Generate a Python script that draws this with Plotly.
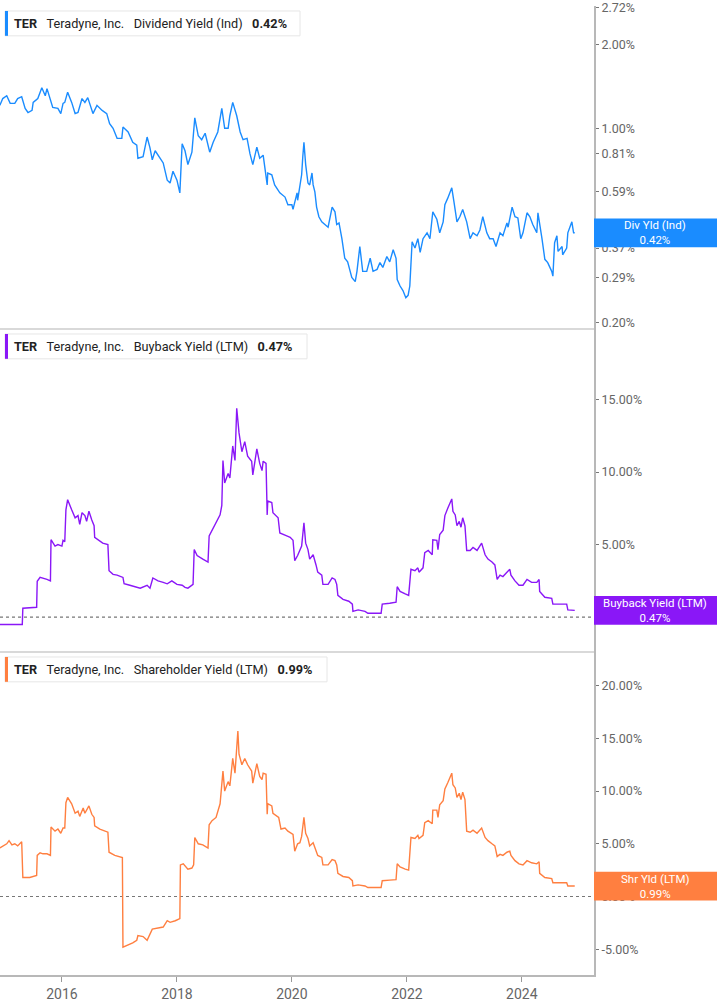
import plotly.graph_objects as go
from plotly.subplots import make_subplots
from datetime import datetime, timedelta
import math

# ---------------- data (decimal years, percent values) ----------------
div_t = [2014.92, 2014.97, 2015.04, 2015.10, 2015.18, 2015.23, 2015.30, 2015.36, 2015.41, 2015.48,
         2015.50, 2015.58, 2015.65, 2015.71, 2015.74, 2015.79, 2015.84, 2015.93, 2015.98, 2016.02,
         2016.05, 2016.10, 2016.17, 2016.23, 2016.28, 2016.35, 2016.40, 2016.45, 2016.49, 2016.54,
         2016.61, 2016.70, 2016.78, 2016.83, 2016.89, 2016.96, 2017.04, 2017.06, 2017.15, 2017.23,
         2017.30, 2017.32, 2017.41, 2017.48, 2017.53, 2017.57, 2017.62, 2017.70, 2017.76, 2017.83,
         2017.88, 2017.93, 2018.00, 2018.05, 2018.09, 2018.14, 2018.19, 2018.26, 2018.31, 2018.37,
         2018.43, 2018.49, 2018.57, 2018.63, 2018.71, 2018.78, 2018.83, 2018.89, 2018.92, 2018.97,
         2019.04, 2019.10, 2019.15, 2019.22, 2019.27, 2019.32, 2019.39, 2019.44, 2019.50, 2019.57,
         2019.58, 2019.65, 2019.70, 2019.79, 2019.88, 2019.93, 2020.00, 2020.02, 2020.09, 2020.10,
         2020.14, 2020.17, 2020.19, 2020.21, 2020.24, 2020.28, 2020.31, 2020.35, 2020.37, 2020.40,
         2020.43, 2020.47, 2020.52, 2020.57, 2020.63, 2020.70, 2020.75, 2020.78, 2020.82, 2020.87,
         2020.92, 2020.97, 2021.04, 2021.10, 2021.13, 2021.18, 2021.23, 2021.30, 2021.36, 2021.41,
         2021.48, 2021.53, 2021.58, 2021.65, 2021.70, 2021.76, 2021.81, 2021.83, 2021.88, 2021.93,
         2021.98, 2022.02, 2022.05, 2022.09, 2022.14, 2022.19, 2022.23, 2022.28, 2022.35, 2022.40,
         2022.45, 2022.52, 2022.57, 2022.63, 2022.66, 2022.71, 2022.78, 2022.82, 2022.87, 2022.92,
         2022.97, 2023.04, 2023.10, 2023.15, 2023.22, 2023.27, 2023.32, 2023.39, 2023.44, 2023.50,
         2023.55, 2023.62, 2023.67, 2023.74, 2023.76, 2023.83, 2023.88, 2023.93, 2023.98, 2024.02,
         2024.09, 2024.14, 2024.19, 2024.26, 2024.28, 2024.35, 2024.40, 2024.45, 2024.52, 2024.54,
         2024.57, 2024.61, 2024.63, 2024.70, 2024.71, 2024.78, 2024.80, 2024.87, 2024.90, 2024.92]
div_v = [1.21, 1.28, 1.31, 1.23, 1.23, 1.28, 1.30, 1.18, 1.14, 1.16,
         1.24, 1.28, 1.40, 1.31, 1.39, 1.28, 1.19, 1.18, 1.13, 1.23,
         1.24, 1.35, 1.24, 1.13, 1.14, 1.28, 1.24, 1.29, 1.21, 1.13,
         1.21, 1.16, 1.13, 1.04, 1.00, 0.92, 0.92, 1.01, 0.97, 0.89,
         0.87, 0.78, 0.79, 0.93, 0.85, 0.77, 0.83, 0.78, 0.75, 0.65,
         0.635, 0.70, 0.65, 0.585, 0.88, 0.83, 0.74, 0.82, 1.09, 0.94,
         0.91, 0.96, 0.82, 0.89, 0.97, 1.18, 1.00, 1.00, 1.11, 1.24,
         1.11, 0.97, 0.91, 0.92, 0.81, 0.74, 0.855, 0.78, 0.80, 0.625,
         0.69, 0.68, 0.625, 0.585, 0.565, 0.53, 0.53, 0.51, 0.585, 0.55,
         0.615, 0.68, 0.79, 0.89, 0.74, 0.635, 0.625, 0.69, 0.625, 0.59,
         0.52, 0.48, 0.46, 0.45, 0.44, 0.52, 0.50, 0.45, 0.456, 0.40,
         0.34, 0.33, 0.29, 0.28, 0.305, 0.375, 0.305, 0.305, 0.34, 0.305,
         0.31, 0.328, 0.315, 0.345, 0.33, 0.365, 0.34, 0.285, 0.27, 0.26,
         0.245, 0.25, 0.27, 0.39, 0.37, 0.40, 0.357, 0.40, 0.42, 0.40,
         0.50, 0.47, 0.42, 0.46, 0.53, 0.56, 0.61, 0.54, 0.46, 0.48,
         0.51, 0.46, 0.40, 0.42, 0.41, 0.43, 0.48, 0.42, 0.40, 0.40,
         0.375, 0.42, 0.41, 0.456, 0.44, 0.52, 0.48, 0.475, 0.40, 0.42,
         0.496, 0.48, 0.45, 0.42, 0.496, 0.40, 0.337, 0.328, 0.305, 0.293,
         0.387, 0.41, 0.36, 0.375, 0.35, 0.37, 0.42, 0.46, 0.42, 0.42]

bb_t = [2014.92, 2015.31, 2015.32, 2015.56, 2015.57, 2015.62, 2015.74, 2015.80, 2015.81, 2015.88,
        2015.93, 2016.00, 2016.02, 2016.05, 2016.07, 2016.10, 2016.17, 2016.23, 2016.28, 2016.31,
        2016.35, 2016.40, 2016.43, 2016.47, 2016.52, 2016.56, 2016.57, 2016.63, 2016.71, 2016.80,
        2016.82, 2016.89, 2016.96, 2017.06, 2017.08, 2017.18, 2017.30, 2017.36, 2017.48, 2017.53,
        2017.58, 2017.67, 2017.76, 2017.83, 2017.91, 2018.00, 2018.09, 2018.14, 2018.19, 2018.28,
        2018.30, 2018.35, 2018.45, 2018.54, 2018.56, 2018.61, 2018.66, 2018.70, 2018.75, 2018.78,
        2018.80, 2018.83, 2018.89, 2018.92, 2018.97, 2019.01, 2019.04, 2019.08, 2019.13, 2019.18,
        2019.23, 2019.30, 2019.32, 2019.39, 2019.44, 2019.48, 2019.50, 2019.55, 2019.57, 2019.58,
        2019.65, 2019.67, 2019.76, 2019.79, 2019.84, 2019.91, 2019.97, 2020.02, 2020.05, 2020.10,
        2020.17, 2020.21, 2020.24, 2020.28, 2020.31, 2020.37, 2020.42, 2020.45, 2020.52, 2020.54,
        2020.63, 2020.70, 2020.75, 2020.78, 2020.80, 2020.89, 2020.99, 2021.05, 2021.06, 2021.15,
        2021.27, 2021.32, 2021.55, 2021.57, 2021.70, 2021.81, 2021.83, 2021.88, 2021.97, 2022.03,
        2022.07, 2022.14, 2022.19, 2022.21, 2022.28, 2022.31, 2022.37, 2022.44, 2022.45, 2022.52,
        2022.54, 2022.57, 2022.63, 2022.66, 2022.71, 2022.75, 2022.78, 2022.80, 2022.84, 2022.87,
        2022.91, 2022.94, 2022.97, 2023.01, 2023.04, 2023.10, 2023.15, 2023.22, 2023.30, 2023.36,
        2023.41, 2023.48, 2023.53, 2023.57, 2023.62, 2023.67, 2023.74, 2023.79, 2023.81, 2023.88,
        2023.95, 2024.02, 2024.09, 2024.17, 2024.26, 2024.30, 2024.31, 2024.40, 2024.52, 2024.54,
        2024.61, 2024.78, 2024.80, 2024.89, 2024.92]
bb_v = [-0.5, -0.5, 0.62, 0.68, 2.47, 2.74, 2.6, 2.5, 5.34, 4.9,
        5.0, 4.9, 5.3, 5.2, 7.4, 8.1, 7.4, 6.85, 7.0, 6.4,
        7.2, 7.0, 6.6, 7.3, 6.7, 6.3, 5.5, 5.3, 5.1, 5.0,
        3.2, 2.95, 2.9, 2.74, 2.3, 2.2, 2.05, 2.0, 2.2, 2.0,
        2.7, 2.5, 2.4, 2.3, 2.5, 2.26, 2.2, 2.05, 2.0, 2.26,
        4.66, 4.25, 4.0, 3.8, 5.6, 6.0, 6.4, 6.7, 7.05, 7.7,
        10.8, 9.25, 9.9, 9.6, 11.8, 10.8, 14.4, 12.7, 11.4, 12.1,
        11.1, 10.75, 9.8, 11.6, 10.6, 10.1, 10.75, 10.6, 7.05, 8.0,
        7.9, 7.2, 6.85, 5.8, 5.7, 5.6, 5.5, 5.3, 3.9, 4.25,
        4.9, 6.5, 5.1, 4.66, 4.0, 4.3, 3.6, 3.1, 2.9, 2.26,
        2.26, 2.7, 2.6, 2.26, 1.5, 1.23, 1.1, 0.9, 0.4, 0.5,
        0.4, 0.27, 0.27, 0.9, 0.96, 1.03, 2.1, 1.78, 1.6, 1.5,
        3.3, 3.2, 3.4, 3.1, 3.4, 4.45, 4.6, 4.3, 5.34, 5.3,
        4.66, 5.7, 6.0, 7.0, 7.5, 7.9, 8.15, 7.3, 7.05, 6.3,
        6.6, 6.2, 6.85, 6.3, 4.6, 4.6, 4.8, 4.6, 5.1, 4.3,
        4.0, 3.8, 3.6, 2.6, 2.9, 2.8, 3.1, 3.3, 2.9, 2.5,
        2.2, 2.2, 2.6, 2.4, 2.4, 2.6, 1.78, 1.37, 1.3, 0.9,
        0.9, 0.9, 0.5, 0.5, 0.47]

shr_t = [2014.92, 2014.97, 2015.04, 2015.08, 2015.13, 2015.18, 2015.23, 2015.30, 2015.32, 2015.44,
         2015.56, 2015.57, 2015.62, 2015.67, 2015.74, 2015.80, 2015.81, 2015.88, 2015.93, 2015.98,
         2016.02, 2016.05, 2016.07, 2016.10, 2016.17, 2016.23, 2016.28, 2016.31, 2016.37, 2016.40,
         2016.43, 2016.47, 2016.52, 2016.56, 2016.57, 2016.66, 2016.80, 2016.82, 2016.92, 2017.05,
         2017.06, 2017.15, 2017.23, 2017.30, 2017.32, 2017.41, 2017.48, 2017.57, 2017.65, 2017.76,
         2017.83, 2017.88, 2017.97, 2018.05, 2018.06, 2018.11, 2018.19, 2018.26, 2018.29, 2018.31,
         2018.37, 2018.45, 2018.54, 2018.56, 2018.61, 2018.68, 2018.75, 2018.80, 2018.83, 2018.89,
         2018.92, 2018.97, 2019.01, 2019.06, 2019.08, 2019.13, 2019.18, 2019.23, 2019.30, 2019.32,
         2019.39, 2019.44, 2019.48, 2019.50, 2019.55, 2019.57, 2019.58, 2019.65, 2019.67, 2019.77,
         2019.81, 2019.88, 2019.93, 2020.02, 2020.05, 2020.10, 2020.14, 2020.17, 2020.21, 2020.24,
         2020.28, 2020.31, 2020.37, 2020.42, 2020.45, 2020.52, 2020.54, 2020.63, 2020.70, 2020.75,
         2020.78, 2020.80, 2020.89, 2020.99, 2021.05, 2021.06, 2021.15, 2021.27, 2021.32, 2021.55,
         2021.57, 2021.70, 2021.81, 2021.83, 2021.88, 2021.97, 2022.03, 2022.07, 2022.14, 2022.19,
         2022.21, 2022.28, 2022.31, 2022.37, 2022.44, 2022.45, 2022.52, 2022.54, 2022.57, 2022.63,
         2022.66, 2022.71, 2022.75, 2022.78, 2022.80, 2022.84, 2022.87, 2022.91, 2022.94, 2022.97,
         2023.01, 2023.04, 2023.10, 2023.15, 2023.22, 2023.30, 2023.36, 2023.41, 2023.48, 2023.53,
         2023.57, 2023.62, 2023.67, 2023.74, 2023.79, 2023.81, 2023.88, 2023.95, 2024.02, 2024.09,
         2024.17, 2024.26, 2024.30, 2024.31, 2024.40, 2024.52, 2024.54, 2024.61, 2024.78, 2024.80,
         2024.89, 2024.92]
shr_v = [4.6, 4.8, 5.0, 5.3, 4.9, 5.0, 4.8, 5.2, 1.8, 1.8,
         2.0, 3.9, 4.15, 4.05, 4.05, 3.9, 6.6, 6.2, 6.4, 6.0,
         6.5, 6.5, 8.9, 9.4, 8.8, 7.9, 8.1, 7.6, 8.4, 7.9,
         8.2, 8.6, 7.8, 7.5, 6.7, 6.4, 6.1, 4.2, 3.9, 3.7,
         -4.8, -4.6, -4.4, -4.15, -3.7, -3.8, -4.15, -3.1, -3.0, -2.9,
         -2.3, -2.45, -2.3, -2.1, 3.0, 3.1, 2.6, 2.7, 3.0, 5.6,
         5.0, 4.9, 4.6, 6.8, 7.2, 7.5, 8.8, 11.9, 10.0, 10.9,
         10.5, 13.1, 11.7, 15.7, 13.5, 12.5, 13.1, 12.5, 11.9, 10.75,
         12.6, 11.4, 11.1, 11.7, 11.6, 7.8, 8.8, 8.6, 7.9, 7.5,
         6.4, 6.5, 6.2, 5.9, 4.3, 5.0, 5.1, 5.7, 7.5, 6.0,
         5.5, 4.8, 5.1, 4.4, 3.9, 3.7, 3.0, 3.0, 3.5, 3.4,
         3.0, 2.2, 1.9, 1.8, 1.5, 1.0, 1.1, 1.0, 0.85, 0.85,
         1.5, 1.55, 1.6, 3.1, 2.8, 2.6, 2.5, 5.6, 5.5, 5.8,
         5.5, 5.8, 7.0, 7.2, 6.9, 8.2, 8.2, 7.5, 8.7, 9.1,
         10.2, 10.8, 11.3, 11.7, 10.6, 10.3, 9.4, 9.8, 9.2, 9.9,
         9.2, 6.2, 6.1, 6.3, 6.0, 6.5, 5.6, 5.3, 5.0, 4.8,
         3.8, 4.0, 3.9, 4.2, 4.3, 3.9, 3.4, 3.1, 3.0, 3.4,
         3.2, 3.1, 3.3, 2.2, 1.8, 1.7, 1.3, 1.3, 1.3, 1.0,
         1.0, 0.99]

div_ticks = [0.20, 0.29, 0.37, 0.59, 0.81, 1.00, 2.00, 2.72]
bb_ticks = [0, 5, 10, 15]
shr_ticks = [-5, 0, 5, 10, 15, 20]
year_ticks = [2016, 2018, 2020, 2022, 2024]

names = ["Dividend Yield (Ind)", "Buyback Yield (LTM)", "Shareholder Yield (LTM)"]
badge_names = ["Div Yld (Ind)", "Buyback Yield (LTM)", "Shr Yld (LTM)"]
last_vals = ["0.42%", "0.47%", "0.99%"]
colors = ["#1a8cff", "#8a17f7", "#ff7f40"]


def dy(y):
    yr = int(y)
    return datetime(yr, 1, 1) + timedelta(days=(y - yr) * 365.25)


W, H = 717, 1005
PW, PH = 594, 975  # plot area in px

fig = make_subplots(rows=3, cols=1, shared_xaxes=True, vertical_spacing=0)
series = [(div_t, div_v), (bb_t, bb_v), (shr_t, shr_v)]
for i, (t, v) in enumerate(series):
    fig.add_trace(go.Scatter(x=[dy(a) for a in t], y=v, mode="lines",
                             line=dict(color=colors[i], width=1.4), hoverinfo="skip",
                             showlegend=False), row=i + 1, col=1)

FONT = "Roboto, Inter, sans-serif"
axfont = dict(family=FONT, size=12.5, color="#666666")
yax_common = dict(side="right", showgrid=False, zeroline=False, showline=True,
                  linecolor="#b8b8b8", linewidth=2, ticks="outside", ticklen=3,
                  tickcolor="#777777", tickfont=axfont, fixedrange=True,
                  ticklabeloverflow="allow")

yranges = [(math.log10(0.189), math.log10(2.76)), (-2.40, 19.86), (-7.45, 23.2)]
domains = [(2 / 3, 1), (1 / 3, 2 / 3), (0, 1 / 3)]

fig.update_layout(
    yaxis=dict(type="log", range=list(yranges[0]),
               tickvals=div_ticks, ticktext=["%.2f%%" % a for a in div_ticks],
               domain=list(domains[0]), **yax_common),
    yaxis2=dict(range=list(yranges[1]), tickvals=bb_ticks,
                ticktext=["%.2f%%" % a for a in bb_ticks], domain=list(domains[1]), **yax_common),
    yaxis3=dict(range=list(yranges[2]), tickvals=shr_ticks,
                ticktext=["%.2f%%" % a for a in shr_ticks], domain=list(domains[2]), **yax_common),
)
xr = [dy(2014.922), dy(2025.253)]
for k in ["xaxis", "xaxis2", "xaxis3"]:
    fig.layout[k].update(range=xr, showgrid=False, zeroline=False, fixedrange=True)
fig.layout.xaxis3.update(showline=True, linecolor="#b8b8b8", linewidth=2, ticks="outside",
                         ticklen=5, tickcolor="#999999",
                         tickvals=[datetime(y, 1, 1) for y in year_ticks],
                         ticktext=[str(y) for y in year_ticks],
                         tickfont=dict(family="Liberation Sans Narrow, Roboto, sans-serif",
                                       size=14, color="#666666"))

fig.update_layout(width=W, height=H, margin=dict(l=0, r=W - PW, t=0, b=H - PH),
                  plot_bgcolor="white", paper_bgcolor="white")


def px(xp):
    return xp / PW


def py(yp):
    return (PH - yp) / PH


shapes = []
anns = []
# separators between panels
for yp in [325, 650]:
    shapes.append(dict(type="line", xref="paper", yref="paper", x0=0, x1=1, y0=py(yp), y1=py(yp),
                       line=dict(color="#cccccc", width=1.5), layer="above"))
# zero dotted lines
for ref in ["y2", "y3"]:
    shapes.append(dict(type="line", xref="paper", yref=ref, x0=0, x1=1, y0=0, y1=0,
                       line=dict(color="#777777", width=1.2, dash="dot"), layer="below"))

# legend boxes
legend_boxes = [(5, 300, 5, 30), (5, 307, 330, 355), (5, 327, 655, 680)]
for i, (x0, x1, y0, y1) in enumerate(legend_boxes):
    shapes.append(dict(type="rect", xref="paper", yref="paper", x0=px(x0), x1=px(x1),
                       y0=py(y1), y1=py(y0), line=dict(color="#e6e6e6", width=1),
                       fillcolor="white", layer="above"))
    shapes.append(dict(type="rect", xref="paper", yref="paper", x0=px(x0), x1=px(x0 + 3),
                       y0=py(y1), y1=py(y0), line=dict(width=0), fillcolor=colors[i],
                       layer="above"))
    sp = "\u00a0\u00a0\u00a0"
    txt = ("<b>TER</b>" + sp + "Teradyne, Inc." + sp + names[i] + sp +
           "<b>" + last_vals[i] + "</b>")
    anns.append(dict(xref="paper", yref="paper", x=px(12), y=py((y0 + y1) / 2),
                     xanchor="left", yanchor="middle", showarrow=False, text=txt,
                     font=dict(family=FONT, size=12.7, color="#222222")))

# value badges at the right (positioned in paper units from the last value)
HALF = 14.5 / PH
last_y = [math.log10(div_v[-1]), bb_v[-1], shr_v[-1]]
for i in range(3):
    lo, hi = yranges[i]
    d0, d1 = domains[i]
    yc = d0 + (last_y[i] - lo) / (hi - lo) * (d1 - d0)
    shapes.append(dict(type="rect", xref="paper", yref="paper", x0=1, x1=W / PW,
                       y0=yc - HALF, y1=yc + HALF,
                       line=dict(width=0), fillcolor=colors[i], layer="above"))
    anns.append(dict(xref="paper", yref="paper", x=655 / PW, y=yc, xanchor="center",
                     yanchor="middle", showarrow=False,
                     text=badge_names[i] + "<br>" + last_vals[i],
                     font=dict(family=FONT, size=11.5, color="white")))

fig.update_layout(shapes=shapes, annotations=anns)
fig.write_html("out.html", config={"displayModeBar": False},
               post_script="document.body.style.margin='0px';")
